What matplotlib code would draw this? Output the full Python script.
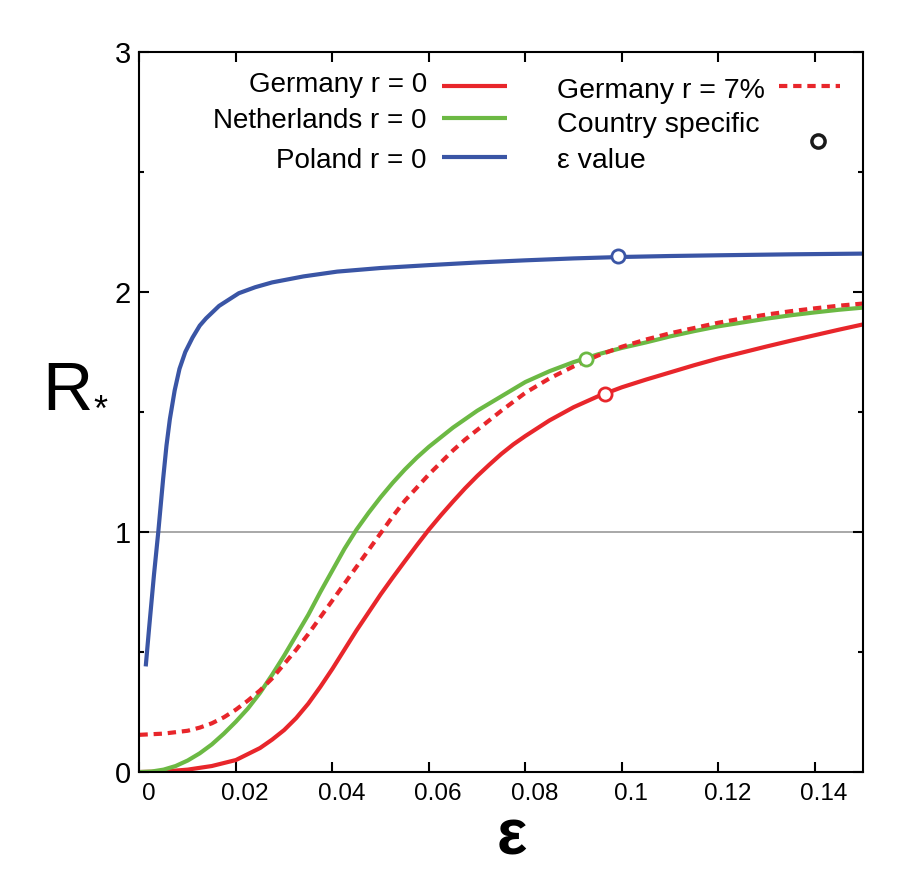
import numpy as np
import matplotlib
matplotlib.use('Agg')
import matplotlib.pyplot as plt
from matplotlib.transforms import ScaledTranslation

plt.rcParams['font.family'] = ['Liberation Sans', 'DejaVu Sans']

# data
eps_ger = [0, 0.005, 0.01, 0.015, 0.02, 0.025, 0.0275, 0.03, 0.0325, 0.035, 0.0375,
           0.04, 0.0425, 0.045, 0.0475, 0.05, 0.0525, 0.055, 0.0575, 0.06, 0.0625,
           0.065, 0.0675, 0.07, 0.0725, 0.075, 0.0775, 0.08, 0.085, 0.09, 0.095, 0.1,
           0.105, 0.11, 0.115, 0.12, 0.125, 0.13, 0.135, 0.14, 0.145, 0.15]
R_ger = [0, 0.002, 0.01, 0.025, 0.05, 0.1, 0.135, 0.175, 0.225, 0.285, 0.355,
         0.43, 0.51, 0.59, 0.665, 0.74, 0.81, 0.878, 0.945, 1.01, 1.07,
         1.127, 1.182, 1.233, 1.28, 1.325, 1.365, 1.40, 1.465, 1.52, 1.565, 1.603,
         1.635, 1.665, 1.695, 1.723, 1.748, 1.773, 1.797, 1.82, 1.843, 1.865]

eps_ned = [0, 0.0025, 0.005, 0.0075, 0.01, 0.0125, 0.015, 0.0175, 0.02, 0.0225,
           0.025, 0.0275, 0.03, 0.0325, 0.035, 0.0375, 0.04, 0.0425, 0.045, 0.0475,
           0.05, 0.0525, 0.055, 0.0575, 0.06, 0.0625, 0.065, 0.0675, 0.07, 0.075,
           0.08, 0.085, 0.09, 0.095, 0.1, 0.105, 0.11, 0.115, 0.12, 0.125, 0.13,
           0.135, 0.14, 0.145, 0.15]
R_ned = [0, 0.002, 0.01, 0.025, 0.048, 0.078, 0.115, 0.16, 0.21, 0.265,
         0.33, 0.405, 0.485, 0.57, 0.655, 0.75, 0.84, 0.93, 1.01, 1.08,
         1.145, 1.205, 1.26, 1.31, 1.355, 1.395, 1.435, 1.47, 1.505, 1.565,
         1.625, 1.67, 1.708, 1.74, 1.767, 1.79, 1.815, 1.837, 1.857, 1.873, 1.889,
         1.903, 1.915, 1.926, 1.935]

eps_pol = [0.0013, 0.002, 0.003, 0.0039, 0.0049, 0.0056, 0.0063, 0.0073, 0.0083,
           0.0095, 0.011, 0.0125, 0.0138, 0.0165, 0.0206, 0.024, 0.0275, 0.034,
           0.041, 0.05, 0.06, 0.07, 0.08, 0.09, 0.1, 0.11, 0.12, 0.135, 0.15]
R_pol = [0.44, 0.6, 0.82, 1.0, 1.22, 1.36, 1.47, 1.59, 1.68,
         1.75, 1.81, 1.86, 1.89, 1.942, 1.995, 2.02, 2.04, 2.065,
         2.085, 2.1, 2.112, 2.123, 2.132, 2.14, 2.146, 2.15, 2.153, 2.157, 2.16]

eps_ger7 = [0, 0.005, 0.01, 0.0125, 0.015, 0.0175, 0.02, 0.0225, 0.025, 0.0275,
            0.03, 0.0325, 0.035, 0.0375, 0.04, 0.0425, 0.045, 0.0475, 0.05, 0.0525,
            0.055, 0.0575, 0.06, 0.0625, 0.065, 0.0675, 0.07, 0.075, 0.08, 0.085,
            0.09, 0.095, 0.1, 0.105, 0.11, 0.115, 0.12, 0.125, 0.13, 0.135, 0.14,
            0.145, 0.15]
R_ger7 = [0.155, 0.16, 0.172, 0.185, 0.203, 0.228, 0.26, 0.298, 0.34, 0.39,
          0.45, 0.51, 0.575, 0.645, 0.715, 0.785, 0.855, 0.925, 0.995, 1.065,
          1.13, 1.185, 1.24, 1.29, 1.34, 1.385, 1.425, 1.505, 1.58, 1.64,
          1.69, 1.735, 1.772, 1.802, 1.828, 1.85, 1.872, 1.89, 1.906, 1.92, 1.932,
          1.943, 1.952]

# country specific epsilon values (Germany, Netherlands, Poland)
spec_eps = [0.0965, 0.0925, 0.0992]
spec_R = [1.577, 1.722, 2.15]

red = '#e8262b'
green = '#6cb944'
blue = '#3a55a5'
spec_col = [red, green, blue]

fig = plt.figure(figsize=(9.05, 8.92), dpi=100)
ax = fig.add_axes([0.1541, 0.1345, 0.7995, 0.8072])

ax.axhline(1, color='#999999', lw=1.2, zorder=1)
ax.plot(eps_ger, R_ger, color=red, lw=3, solid_capstyle='butt', solid_joinstyle='round')
ax.plot(eps_ned, R_ned, color=green, lw=3, solid_capstyle='butt', solid_joinstyle='round')
ax.plot(eps_pol, R_pol, color=blue, lw=3, solid_capstyle='butt', solid_joinstyle='round')
ax.plot(eps_ger7, R_ger7, color=red, lw=3, linestyle=(0, (2, 1.4)))
for e, r, c in zip(spec_eps, spec_R, spec_col):
    ax.plot(e, r, 'o', ms=9.5, mfc='white', mec=c, mew=2, zorder=5)

ax.set_xlim(0, 0.15)
ax.set_ylim(0, 3)
ax.set_xticks(np.arange(0, 0.15, 0.02))
ax.set_xticklabels(['0', '0.02', '0.04', '0.06', '0.08', '0.1', '0.12', '0.14'])
ax.set_yticks([0, 1, 2, 3])
ax.set_yticks([0.5, 1.5, 2.5], minor=True)
ax.tick_params(which='both', direction='in', top=True, right=True, width=1.5)
ax.tick_params(which='major', length=7)
ax.tick_params(which='minor', length=3.8)
ax.tick_params(axis='x', labelsize=17.5, pad=8)
ax.tick_params(axis='y', labelsize=21, pad=6)
for s in ax.spines.values():
    s.set_linewidth(1.5)

# x tick labels sit a little to the right in the original
off = ScaledTranslation(0.09, 0, fig.dpi_scale_trans)
for lab in ax.get_xticklabels():
    lab.set_transform(lab.get_transform() + off)

# axis labels
fig.text(0.565, 0.042, 'ε', fontsize=46, fontweight='bold', ha='center', va='baseline')
fig.text(0.075, 0.54, 'R', fontsize=50, ha='center', va='baseline')
fig.text(0.111, 0.528, '*', fontsize=26, ha='center', va='baseline')

# legend, left column
T = ax.transAxes
lx_text = 0.3974
ax.text(lx_text, 0.945, 'Germany r = 0', fontsize=20, ha='right', va='baseline', transform=T)
ax.text(lx_text, 0.894, 'Netherlands r = 0', fontsize=20, ha='right', va='baseline', transform=T)
ax.text(lx_text, 0.839, 'Poland r = 0', fontsize=20, ha='right', va='baseline', transform=T)
ax.plot([0.4177, 0.5075], [0.953, 0.953], color=red, lw=3, transform=T, solid_capstyle='butt')
ax.plot([0.4177, 0.5075], [0.909, 0.909], color=green, lw=3, transform=T, solid_capstyle='butt')
ax.plot([0.4177, 0.5075], [0.8546, 0.8546], color=blue, lw=3, transform=T, solid_capstyle='butt')

# legend, right column
rx_text = 0.577
ax.text(rx_text, 0.936, 'Germany r = 7%', fontsize=20.5, ha='left', va='baseline', transform=T)
ax.text(rx_text, 0.889, 'Country specific', fontsize=20.5, ha='left', va='baseline', transform=T)
ax.text(rx_text, 0.839, 'ε value', fontsize=20.5, ha='left', va='baseline', transform=T)
ax.plot([0.8839, 0.9682], [0.953, 0.953], color=red, lw=3, linestyle=(0, (2, 1.4)), transform=T)
ax.plot([0.9378], [0.876], 'o', ms=9.5, mfc='white', mec='#1a1a1a', mew=2.5, transform=T)

plt.savefig('out.png', dpi=100)
